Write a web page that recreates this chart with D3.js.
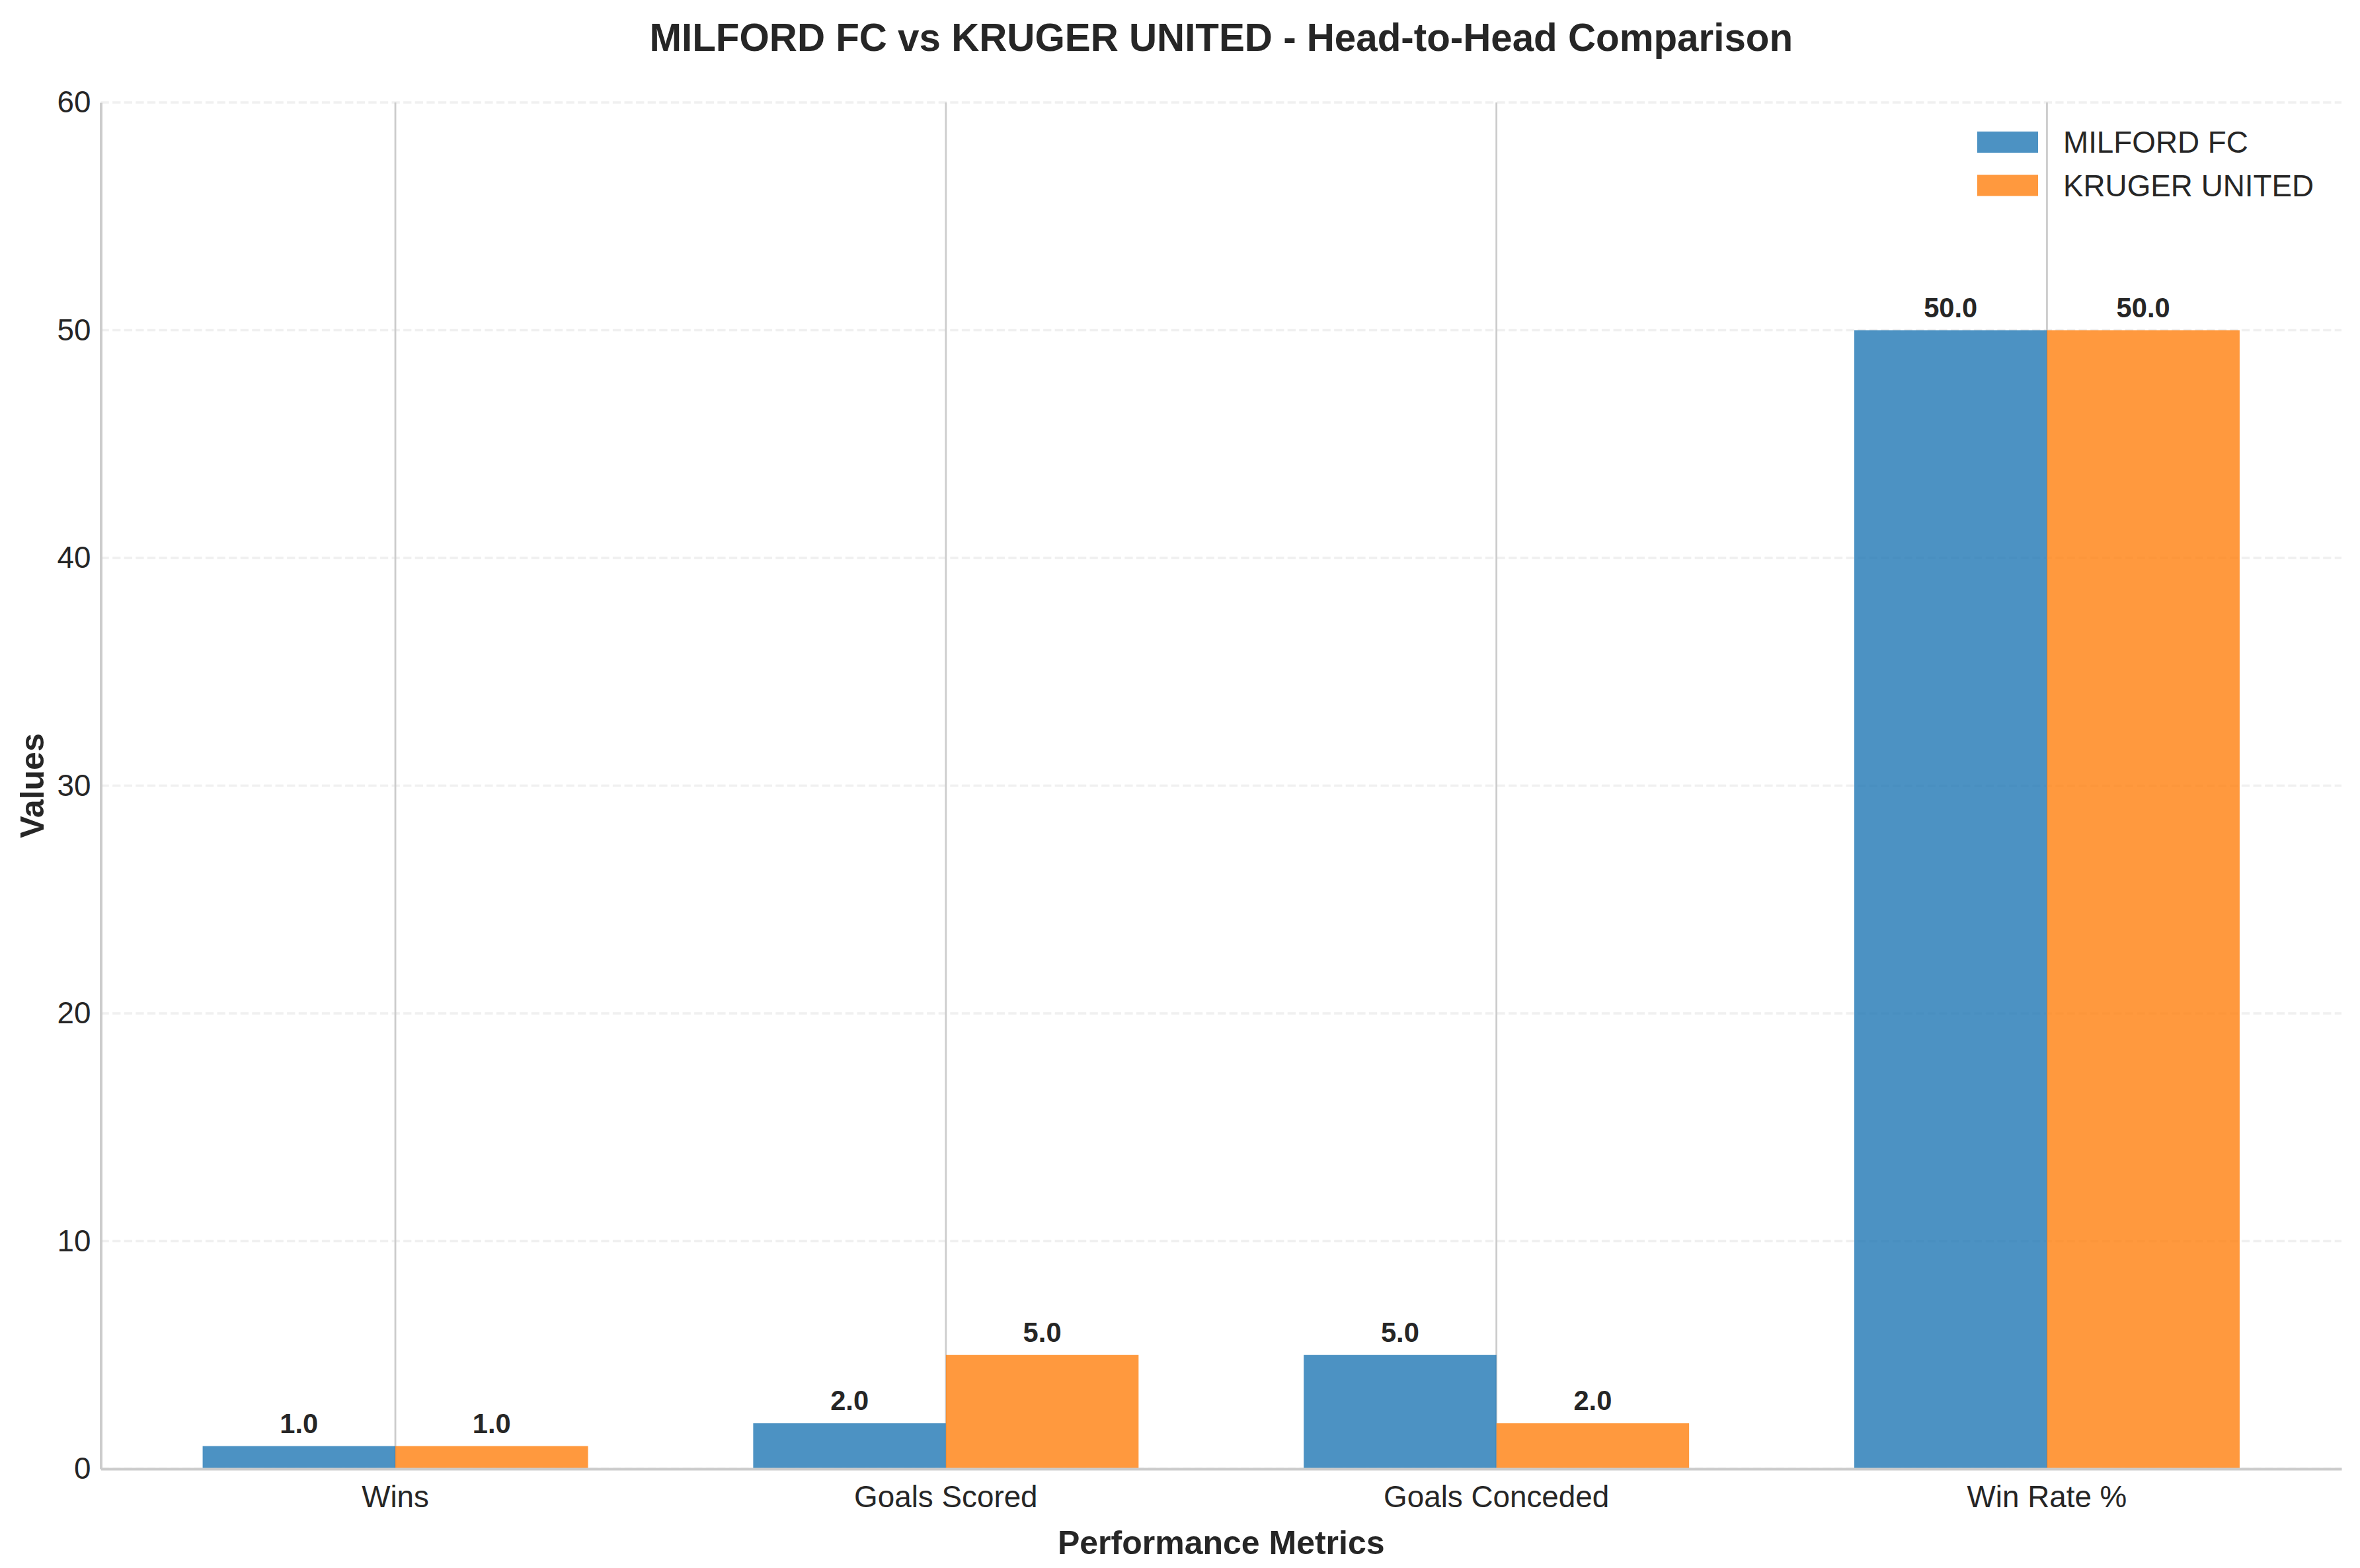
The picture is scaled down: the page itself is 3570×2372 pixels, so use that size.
<!DOCTYPE html>
<html>
<head>
<meta charset="utf-8">
<script src="https://cdn.jsdelivr.net/npm/d3@7"></script>
<style>
  body { margin: 0; background: #ffffff; }
  text { font-family: "Liberation Sans", Arial, sans-serif; fill: #262626; }
</style>
</head>
<body>
<div id="chart"></div>
<script>
// head-to-head bar chart, two teams over four metrics

const width = 3570;
const height = 2372;

var categories = ['Wins', 'Goals Scored', 'Goals Conceded', 'Win Rate %'];
var teams = ['MILFORD FC', 'KRUGER UNITED'];
var milfordValues = [1, 2, 5, 50];
var krugerValues = [1, 5, 2, 50];
var yTicks = [0, 10, 20, 30, 40, 50, 60];

var colors = ['#1f77b4', '#ff7f0e'];

// plot box (window.top is read-only, so no "top" here)
var plotLeft = 152.5, plotRight = 3542, plotTop = 155, plotBottom = 2222;

var svg = d3.select('#chart')
  .append('svg')
  .attr('width', width)
  .attr('height', height)
  .style('background-color', '#ffffff');

var x = d3.scaleBand()
  .domain(categories)
  .range([plotLeft, plotRight])
  .paddingInner(0.3)
  .paddingOuter(0.185);

var xs = d3.scaleBand()
  .domain(teams)
  .range([0, x.bandwidth()]);

var y = d3.scaleLinear()
  .domain([0, 60])
  .range([plotBottom, plotTop]);

// rows for the bars
var rows = [];
categories.forEach(function(c, i) {
  rows.push({cat: c, team: teams[0], value: milfordValues[i], color: colors[0]});
  rows.push({cat: c, team: teams[1], value: krugerValues[i], color: colors[1]});
});

//horizontal grid, dashed and faint
svg.append('g')
  .selectAll('line')
  .data(yTicks)
  .enter()
  .append('line')
  .attr('x1', plotLeft)
  .attr('x2', plotRight)
  .attr('y1', function(d) { return y(d); })
  .attr('y2', function(d) { return y(d); })
  .style('stroke', '#cccccc')
  .style('stroke-opacity', 0.3)
  .style('stroke-width', 3.3)
  .style('stroke-dasharray', '12.3,5.3');

//vertical grid at the category centres
svg.append('g')
  .selectAll('line')
  .data(categories)
  .enter()
  .append('line')
  .attr('x1', function(d) { return x(d) + x.bandwidth() / 2; })
  .attr('x2', function(d) { return x(d) + x.bandwidth() / 2; })
  .attr('y1', plotTop)
  .attr('y2', plotBottom)
  .style('stroke', '#cccccc')
  .style('stroke-width', 2.8);

//bars
svg.append('g')
  .selectAll('rect')
  .data(rows)
  .enter()
  .append('rect')
  .attr('x', function(d) { return x(d.cat) + xs(d.team); })
  .attr('y', function(d) { return y(d.value); })
  .attr('width', xs.bandwidth())
  .attr('height', function(d) { return y(0) - y(d.value); })
  .style('fill', function(d) { return d.color; })
  .style('fill-opacity', 0.8);

//value labels
svg.append('g')
  .selectAll('text')
  .data(rows)
  .enter()
  .append('text')
  .attr('x', function(d) { return x(d.cat) + xs(d.team) + xs.bandwidth() / 2; })
  .attr('y', function(d) { return y(d.value) - 20; })
  .style('font-size', '41.7px')
  .style('font-weight', 'bold')
  .style('text-anchor', 'middle')
  .text(function(d) { return d.value.toFixed(1); });

//axes
var xAxis = svg.append('g')
  .attr('transform', 'translate(0,' + plotBottom + ')')
  .call(d3.axisBottom(x).tickSize(0).tickSizeOuter(0).tickPadding(25));

var yAxis = svg.append('g')
  .attr('transform', 'translate(' + plotLeft + ',0)')
  .call(d3.axisLeft(y).tickValues(yTicks).tickSize(0).tickSizeOuter(0).tickPadding(15)
    .tickFormat(d3.format('d')));

[xAxis, yAxis].forEach(function(a) {
  a.select('.domain')
    .style('stroke', '#cccccc')
    .style('stroke-width', 4);
  a.selectAll('text')
    .style('font-size', '45.8px')
    .style('font-family', '"Liberation Sans", Arial, sans-serif')
    .style('fill', '#262626');
});

//title and axis labels
svg.append('text')
  .attr('x', (plotLeft + plotRight) / 2)
  .attr('y', 77)
  .style('font-size', '58.3px')
  .style('font-weight', 'bold')
  .style('text-anchor', 'middle')
  .text('MILFORD FC vs KRUGER UNITED - Head-to-Head Comparison');

svg.append('text')
  .attr('x', (plotLeft + plotRight) / 2)
  .attr('y', 2351)
  .style('font-size', '50px')
  .style('font-weight', 'bold')
  .style('text-anchor', 'middle')
  .text('Performance Metrics');

svg.append('text')
  .attr('transform', 'translate(66,' + (plotTop + plotBottom) / 2 + ') rotate(-90)')
  .style('font-size', '50px')
  .style('font-weight', 'bold')
  .style('text-anchor', 'middle')
  .text('Values');

//legend
var legend = svg.append('g')
  .attr('transform', 'translate(2991,199)');

var item = legend.selectAll('g')
  .data(teams)
  .enter()
  .append('g')
  .attr('transform', function(d, i) { return 'translate(0,' + (i * 65.5) + ')'; });

item.append('rect')
  .attr('width', 92)
  .attr('height', 32)
  .style('fill', function(d, i) { return colors[i]; })
  .style('fill-opacity', 0.8);

item.append('text')
  .attr('x', 130)
  .attr('y', 32)
  .style('font-size', '45.8px')
  .text(function(d) { return d; });
</script>
</body>
</html>
